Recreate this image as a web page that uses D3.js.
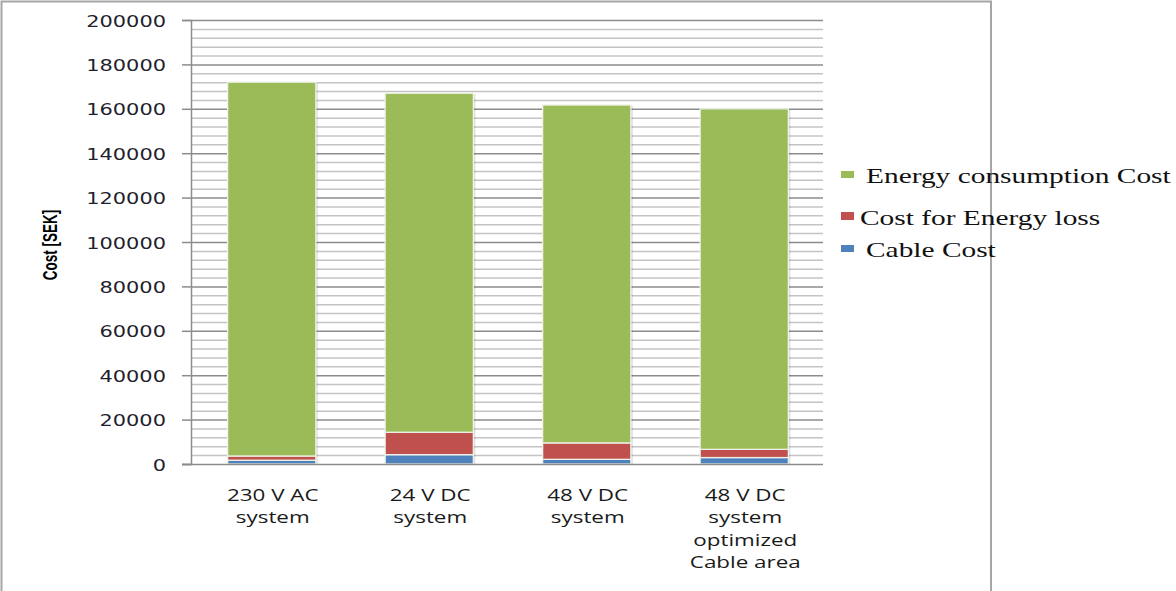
<!DOCTYPE html>
<html>
<head>
<meta charset="utf-8">
<script src="https://cdn.jsdelivr.net/npm/d3@7/dist/d3.min.js"></script>
<style>
  html, body { margin: 0; padding: 0; background: #fff; }
  svg { display: block; }
</style>
</head>
<body>
<svg id="chart" width="1176" height="591"></svg>
<script>
// ---- data ----
const categories = ["230 V AC system", "24 V DC system", "48 V DC system", "48 V DC system optimized Cable area"];
const categoryLines = [["230 V AC", "system"], ["24 V DC", "system"], ["48 V DC", "system"], ["48 V DC", "system", "optimized", "Cable area"]];
const cableCost = [1700, 4200, 2100, 2900];
const energyLossCost = [1900, 10100, 7400, 3700];
const energyConsumptionCost = [168400, 152700, 152200, 153400];
const seriesNames = ["Cable Cost", "Cost for Energy loss", "Energy consumption Cost"];
const seriesColors = ["#4f81bd", "#c0504d", "#9bbb59"];
const yTickValues = [0, 20000, 40000, 60000, 80000, 100000, 120000, 140000, 160000, 180000, 200000];
const yMinorStep = 4000;
const yTitle = "Cost [SEK]";

// ---- layout ----
const svg = d3.select("#chart");
const SX = 1.35; // horizontal stretch of the reference's text
const plot = { left: 191, right: 823, top: 20, bottom: 464 };

const x = d3.scaleBand().domain(categories).range([plot.left + 2, plot.right]).paddingInner(0.44).paddingOuter(0.22);
const y = d3.scaleLinear().domain([0, 200000]).range([plot.bottom, plot.top]);

// outer border
svg.append("rect").attr("x", 1.5).attr("y", 1.5).attr("width", 989.5).attr("height", 620)
  .attr("fill", "none").attr("stroke", "#a6a6a6").attr("stroke-width", 2);

// minor gridlines
const minorVals = d3.range(0, 200001, yMinorStep).filter(v => v % 20000 !== 0);
svg.append("g").selectAll("line").data(minorVals).join("line")
  .attr("x1", plot.left).attr("x2", plot.right)
  .attr("y1", d => y(d) + 0.5).attr("y2", d => y(d) + 0.5)
  .attr("stroke", "#c4c4c4").attr("stroke-width", 1.5);

// major gridlines
svg.append("g").selectAll("line").data(yTickValues.filter(v => v > 0)).join("line")
  .attr("x1", plot.left).attr("x2", plot.right)
  .attr("y1", d => y(d) + 0.5).attr("y2", d => y(d) + 0.5)
  .attr("stroke", "#8c8c8c").attr("stroke-width", 1.5);

// stacked bars
const stackData = categories.map((c, i) => ({
  cat: c,
  cable: cableCost[i],
  loss: energyLossCost[i],
  cons: energyConsumptionCost[i]
}));
const stack = d3.stack().keys(["cable", "loss", "cons"]);
const layers = stack(stackData);

// shadows
svg.append("g").selectAll("rect").data(stackData).join("rect")
  .attr("x", d => x(d.cat) + 2)
  .attr("y", d => y(d.cable + d.loss + d.cons) + 1)
  .attr("width", x.bandwidth())
  .attr("height", d => y(0) - y(d.cable + d.loss + d.cons))
  .attr("fill", "#000").attr("opacity", 0.12);

svg.append("g").selectAll("g").data(layers).join("g")
  .attr("fill", (d, i) => seriesColors[i])
  .selectAll("rect").data(d => d).join("rect")
  .attr("x", d => x(d.data.cat))
  .attr("y", d => y(d[1]))
  .attr("width", x.bandwidth())
  .attr("height", d => y(d[0]) - y(d[1]))
  .attr("stroke", "#eef2e8").attr("stroke-width", 1.3);

// y axis
const yAxis = d3.axisLeft(y).tickValues(yTickValues).tickSize(9).tickPadding(0).tickFormat(d3.format("d"));
const gy = svg.append("g").attr("transform", `translate(${plot.left},0)`).call(yAxis);
gy.select(".domain").attr("stroke", "#8c8c8c").attr("stroke-width", 1.5);
gy.selectAll(".tick line").attr("stroke", "#8c8c8c").attr("stroke-width", 1.5);
gy.selectAll(".tick text")
  .attr("x", null).attr("dy", null)
  .attr("transform", `translate(-25,6) scale(${SX},1)`)
  .attr("font-family", "'DejaVu Sans', sans-serif")
  .attr("font-size", 15.5)
  .attr("fill", "#1f1f2e")
  .attr("text-anchor", "end");

// x axis baseline
svg.append("line").attr("x1", plot.left - 9).attr("x2", plot.right)
  .attr("y1", y(0) + 0.5).attr("y2", y(0) + 0.5)
  .attr("stroke", "#8c8c8c").attr("stroke-width", 1.5);

// category labels
const catG = svg.append("g");
categories.forEach((c, i) => {
  const t = catG.append("text")
    .attr("transform", `translate(${x(c) + x.bandwidth() / 2 + 1},501) scale(1.4,1)`)
    .attr("text-anchor", "middle")
    .attr("font-family", "'Open Sans', sans-serif")
    .attr("font-size", 16)
    .attr("fill", "#1a1a1a");
  categoryLines[i].forEach((ln, j) => {
    t.append("tspan").attr("x", 0).attr("y", j * 22.5).text(ln);
  });
});

// y title
svg.append("text")
  .attr("transform", `translate(57,245) scale(1.45,1) rotate(-90)`)
  .attr("text-anchor", "middle")
  .attr("font-family", "'Liberation Sans Narrow', 'Liberation Sans', sans-serif")
  .attr("font-weight", "bold")
  .attr("font-size", 13.5)
  .attr("fill", "#000")
  .text(yTitle);

// legend
const legendItems = [
  { name: seriesNames[2], color: seriesColors[2], sq: [841, 171, 13, 7], tx: 866, ty: 183 },
  { name: seriesNames[1], color: seriesColors[1], sq: [841, 212, 13, 8], tx: 860, ty: 225 },
  { name: seriesNames[0], color: seriesColors[0], sq: [841, 245, 13, 7], tx: 866, ty: 257 }
];
const lg = svg.append("g");
legendItems.forEach(it => {
  lg.append("rect").attr("x", it.sq[0]).attr("y", it.sq[1]).attr("width", it.sq[2]).attr("height", it.sq[3]).attr("fill", it.color);
  lg.append("text")
    .attr("transform", `translate(${it.tx},${it.ty}) scale(1.4,1)`)
    .attr("font-family", "'Liberation Serif', serif")
    .attr("font-size", 21)
    .attr("fill", "#111")
    .text(it.name);
});
</script>
</body>
</html>
